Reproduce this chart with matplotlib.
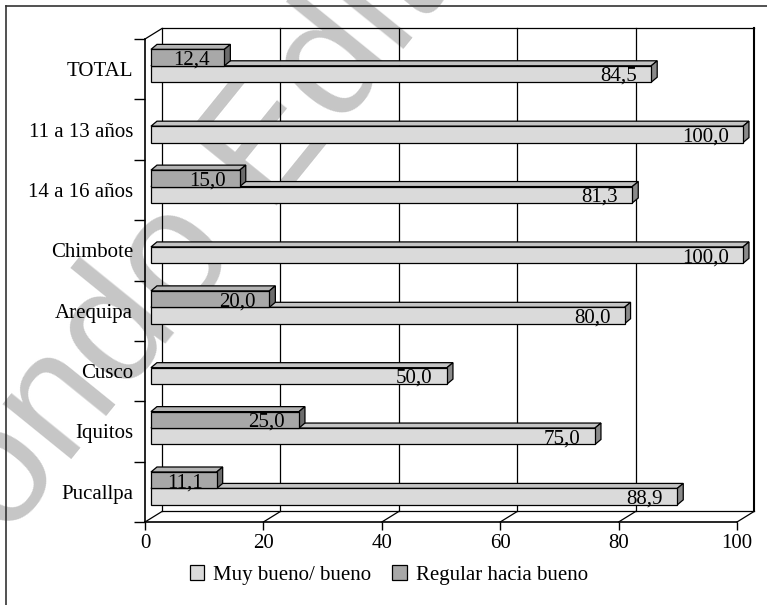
import numpy as np
import matplotlib.pyplot as plt
from matplotlib.patches import Polygon, Patch
from matplotlib.lines import Line2D

#-------------------------------------------------------------------------------------
categorias = ['TOTAL', '11 a 13 años', '14 a 16 años', 'Chimbote', 'Arequipa', 'Cusco', 'Iquitos', 'Pucallpa']
muy_bueno = [84.5, 100.0, 81.3, 100.0, 80.0, 50.0, 75.0, 88.9]
regular = [12.4, None, 15.0, None, 20.0, None, 25.0, 11.1]
series = ['Muy bueno/ bueno', 'Regular hacia bueno']
xticks = [0, 20, 40, 60, 80, 100]

plt.rcParams['font.family'] = ['Liberation Serif', 'DejaVu Serif']
plt.rcParams['font.size'] = 15

col_light = ('#dadada', '#c4c4c4', '#8a8a8a')   # front, top, side
col_dark = ('#a8a8a8', '#b4b4b4', '#6c6c6c')

#-------------------------------------------------------------------------------------
W, H = 767, 605
fig = plt.figure(figsize=(W / 100, H / 100), dpi=100)
ax = fig.add_axes([145 / W, (H - 522) / H, 592 / W, 483 / H])
ax.patch.set_visible(False)
n = len(categorias)
ax.set_xlim(0, 100)
ax.set_ylim(0, n)

# depth of the walls and of the bars (data units)
wdx, wdy = 2.87, 0.174
fdx, fdy = 1.01, 0.066
bdx, bdy = 1.01, 0.083
h = 0.272

lk = dict(color='black', lw=0.9, clip_on=False, zorder=1)
# back wall, floor, left wall
ax.plot([wdx, 100 + wdx], [wdy, wdy], **lk)
ax.plot([wdx, 100 + wdx], [n + wdy, n + wdy], **lk)
ax.plot([wdx, wdx], [wdy, n + wdy], **lk)
ax.plot([100 + wdx, 100 + wdx], [wdy, n + wdy], color='black', lw=1.5, clip_on=False, zorder=1)
for t in xticks:
    if 0 < t < 100:
        ax.plot([t + wdx, t + wdx], [wdy, n + wdy], **lk)
    ax.plot([t, t + wdx], [0, wdy], **lk)
ax.plot([0, wdx], [n, n + wdy], **lk)


def barra(y0, v, cols):
    x0, yb = fdx, y0 + fdy
    front = [(x0, yb), (x0 + v, yb), (x0 + v, yb + h), (x0, yb + h)]
    top = [(x0, yb + h), (x0 + v, yb + h), (x0 + v + bdx, yb + h + bdy), (x0 + bdx, yb + h + bdy)]
    side = [(x0 + v, yb), (x0 + v + bdx, yb + bdy), (x0 + v + bdx, yb + h + bdy), (x0 + v, yb + h)]
    for pts, c in zip([top, side, front], [cols[1], cols[2], cols[0]]):
        ax.add_patch(Polygon(pts, closed=True, facecolor=c, edgecolor='black', lw=0.9,
                             clip_on=False, zorder=3))
    etiqueta = f'{v:.1f}'.replace('.', ',')
    ax.text(x0 + v - 2.4, yb + 0.02, etiqueta, ha='right', va='baseline', zorder=4)


for i, cat in enumerate(categorias):
    c = n - 1 - i + 0.5
    barra(c - 0.01 - h, muy_bueno[i], col_light)
    if regular[i] is not None:
        barra(c - 0.01, regular[i], col_dark)

# front axes
for s in ['top', 'right']:
    ax.spines[s].set_visible(False)
for s in ['left', 'bottom']:
    ax.spines[s].set_linewidth(1.2)
    ax.spines[s].set_zorder(2)
ax.set_xticks(xticks)
ax.set_xticklabels([str(t) for t in xticks])
ax.tick_params(axis='x', direction='out', length=5.8, width=1.0, pad=2.5)
ax.set_yticks(np.arange(0, n + 1))
ax.set_yticklabels([])
ax.tick_params(axis='y', which='major', direction='out', length=7.9, width=1.0)
ax.set_yticks(np.arange(n) + 0.5, minor=True)
ax.set_yticklabels(categorias[::-1], minor=True)
ax.tick_params(axis='y', which='minor', length=0, pad=8.6)

# legend
handles = [Patch(facecolor=col_light[0], edgecolor='black', lw=0.9),
           Patch(facecolor=col_dark[0], edgecolor='black', lw=0.9)]
fig.legend(handles, series, loc='center', bbox_to_anchor=(389 / W, 1 - 575 / H), ncol=2,
           frameon=False, handlelength=0.7, handleheight=0.7, handletextpad=0.45,
           columnspacing=1.0, borderaxespad=0)

# frame (only left and top visible in the scan)
fig.add_artist(Line2D([6 / W, 6 / W], [0, 1 - 6 / H], color='#333333', lw=1.2))
fig.add_artist(Line2D([6 / W, 1], [1 - 6 / H, 1 - 6 / H], color='#333333', lw=1.2))

# watermark
fig.text(-58 / W, -14 / H, 'Fondo Editorial', family='Liberation Sans', fontsize=120,
         color='#c6c6c6', rotation=51, rotation_mode='anchor', ha='left', va='baseline',
         zorder=-1)

fig.savefig('out.png', dpi=100)
